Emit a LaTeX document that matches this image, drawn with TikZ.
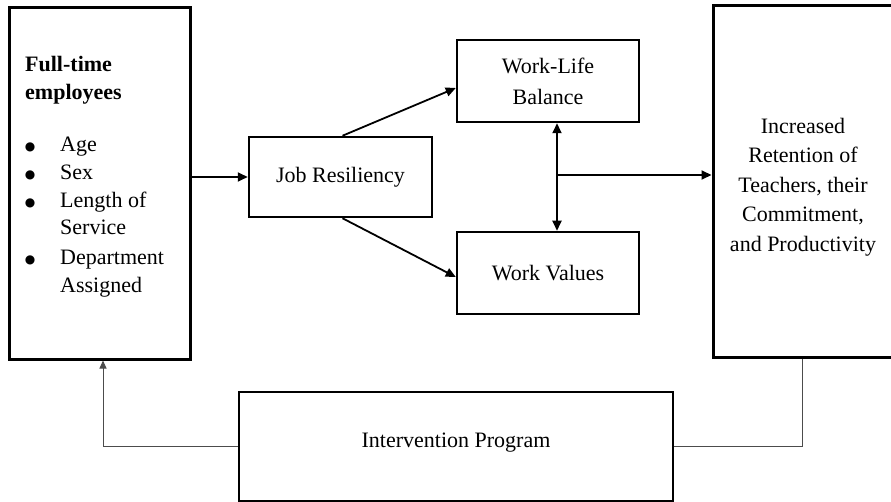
\documentclass[tikz,border=0pt]{standalone}
\usepackage{fontspec}
\setmainfont{Liberation Serif}
\newfontfamily\symfont{DejaVu Sans}
\usetikzlibrary{arrows.meta,calc}
\begin{document}
\begin{tikzpicture}[x=1pt,y=-1pt,
  every node/.style={font=\fontsize{22}{29.5}\selectfont},
  bigbox/.style={draw,line width=3pt,inner sep=0pt},
  midbox/.style={draw,line width=2.5pt,inner sep=0pt,align=center},
  txt/.style={inner sep=0pt,anchor=base west},
  bul/.style={inner sep=0pt,anchor=center,font=\symfont\fontsize{12}{12}\selectfont},
  arr/.style={line width=1.8pt,-{Triangle[length=10pt,width=9pt]}},
  darr/.style={line width=1.8pt,{Triangle[length=10pt,width=9pt]}-{Triangle[length=10pt,width=9pt]}},
  fb/.style={line width=1pt,draw=black!70}
]
\useasboundingbox (0,0) rectangle (891,502);
% left box
\node[bigbox,minimum width=181pt,minimum height=351pt] (emp) at (99.5,183.5) {};
\node[txt,font=\fontsize{22}{29.5}\selectfont\bfseries] (t1) at (25,72) {Full-time};
\node[txt,font=\fontsize{22}{29.5}\selectfont\bfseries] (t2) at (25,100) {employees};
\node[bul] (b1) at (30,147) {●};
\node[txt] (l1) at (60,152) {Age};
\node[bul] (b2) at (30,175) {●};
\node[txt] (l2) at (60,180) {Sex};
\node[bul] (b3) at (30,203) {●};
\node[txt] (l3) at (60,208) {Length of};
\node[txt] (l3b) at (60,235) {Service};
\node[bul] (b4) at (30,260) {●};
\node[txt] (l4) at (60,265) {Department};
\node[txt] (l4b) at (60,293) {Assigned};
% middle boxes
\node[midbox,minimum width=183pt,minimum height=80pt] (JR) at (340.5,177) {Job Resiliency};
\node[midbox,minimum width=182pt,minimum height=82pt,font=\fontsize{22}{31}\selectfont] (WLB) at (548,81) {Work-Life\\Balance};
\node[midbox,minimum width=182pt,minimum height=82pt] (WV) at (548,273) {Work Values};
% right box
\node[bigbox,minimum width=180pt,minimum height=351pt] (RB) at (803,181.5) {};
\node[inner sep=0pt,align=center] (RBt) at (803,187) {Increased\\Retention of\\Teachers, their\\Commitment,\\and Productivity};
% intervention
\node[draw,line width=2.2pt,inner sep=0pt,minimum width=434pt,minimum height=109pt,text height=15pt,text depth=14pt] (IP) at (456,446.5) {Intervention Program};
% connectors
\draw[arr] (emp.east |- JR.west) -- (JR.west);
\draw[arr] ([xshift=2pt]JR.north) -- ([yshift=-7pt]WLB.west);
\draw[arr] ([xshift=2pt]JR.south) -- ([yshift=-4pt]WV.west);
\draw[darr] ([xshift=9pt]WLB.south) -- ([xshift=9pt]WV.north);
\coordinate (junc) at (557,175);
\draw[arr] (junc) -- (junc -| RB.west);
\draw[fb,-{Triangle[length=8pt,width=7pt]}] (IP.west) -| ([xshift=3.5pt]emp.south);
\draw[fb] (IP.east) -| ([xshift=-1pt]RB.south);
\end{tikzpicture}
\end{document}
